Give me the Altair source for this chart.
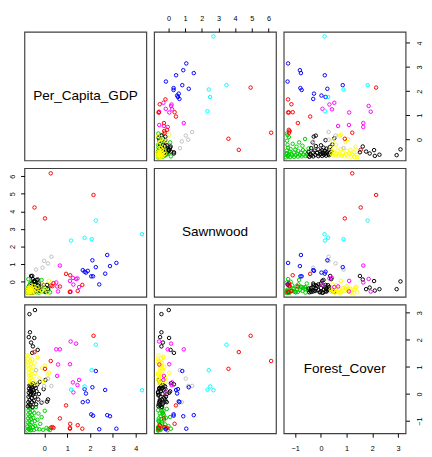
import altair as alt
import pandas as pd

groups = ["black", "red", "green", "blue", "cyan", "magenta", "yellow", "gray"]
colors = ["#000000", "#FF0000", "#00CD00", "#0000FF", "#00FFFF", "#FF00FF", "#FFFF00", "#BEBEBE"]

variables = ["Per_Capita_GDP", "Sawnwood", "Forest_Cover"]

gdp_ticks = [0, 1, 2, 3, 4]
saw_ticks = [0, 1, 2, 3, 4, 5, 6]
forest_ticks = [-1, 0, 1, 2, 3]

# ---- data per group: (Per_Capita_GDP, Sawnwood, Forest_Cover) ----
black_gdp = [-0.41, -0.65, -0.44, -0.68, -0.63, -0.58, -0.50, -0.29, -0.53,
             -0.72, -0.70, -0.69, -0.68, -0.67, -0.66, -0.65, -0.64, -0.63, -0.62,
             -0.61, -0.60, -0.59, -0.58, -0.57, -0.56, -0.55, -0.54, -0.53, -0.52,
             -0.50, -0.49, -0.48, -0.46, -0.45, -0.43, -0.41, -0.38, -0.36, -0.34,
             -0.31, -0.27, -0.24, -0.20, -0.12, -0.03, 0.12, 0.16, 0.05]
black_saw = [0.02, -0.42, 0.04, -0.50, -0.42, -0.33, -0.42, 0.13, 0.33,
             -0.60, -0.55, -0.48, -0.62, -0.40, -0.58, -0.30, -0.52, -0.45, -0.60,
             -0.20, -0.50, -0.35, 0.33, -0.55, -0.25, -0.62, -0.10, -0.48, -0.38,
             0.15, -0.58, -0.28, -0.50, 0.05, -0.42, -0.15, -0.55, -0.35, 0.10,
             -0.45, -0.20, -0.10, -0.52, -0.30, -0.18, -0.18, -0.40, -0.58]
black_forest = [3.10, 2.95, 2.07, 2.10, 2.28, 1.90, 1.76, 1.63, 1.52,
                -0.45, -0.30, -0.10, 0.05, 0.20, -0.38, 0.32, -0.22, 0.12, -0.05,
                0.28, -0.42, 0.00, 0.36, 0.18, -0.15, 0.08, -0.30, 0.25, -0.48,
                0.40, -0.02, 0.15, -0.25, 0.05, 0.30, -0.10, 0.22, -0.38, 0.10,
                0.35, -0.20, 0.00, 0.45, -0.32, 0.18, -0.28, -0.20, 0.52]

red_gdp = [2.15, 0.28, -0.43, 0.03, 1.66, 1.46, 1.12, 1.12, 1.13, 0.95, 0.68, 0.40, 0.28, 0.35]
red_saw = [4.93, 6.16, 4.22, 3.60, -0.18, -0.52, -0.58, -0.58, 0.37, 0.45, -0.27, -0.08, -0.22, -0.25]
red_forest = [2.15, 1.22, 1.55, 0.93, -1.28, -1.15, -1.28, -1.25, -1.10, -0.42, -0.90, -1.25, -1.24, -1.22]

green_gdp = [-0.74, -0.73, -0.72, -0.71, -0.70, -0.69, -0.68, -0.67, -0.66, -0.65,
             -0.64, -0.63, -0.62, -0.61, -0.60, -0.58, -0.57, -0.55, -0.54, -0.52,
             -0.50, -0.48, -0.46, -0.44, -0.42, -0.40, -0.37, -0.34, -0.30, -0.26,
             -0.22, -0.18, -0.12, -0.05, 0.02, 0.10, 0.18, 0.25, -0.70, -0.60]
green_saw = [-0.62, -0.50, -0.40, -0.58, -0.30, -0.62, -0.45, -0.55, -0.20, -0.60,
             -0.48, -0.35, -0.62, -0.10, -0.52, -0.42, -0.60, -0.28, -0.55, -0.40,
             -0.62, -0.15, -0.50, -0.35, -0.58, 0.00, -0.45, -0.60, -0.25, -0.52,
             -0.62, -0.38, 0.10, -0.55, -0.30, -0.58, -0.45, -0.60, 0.15, -0.05]
green_forest = [-1.35, -1.20, -1.05, -0.90, -0.75, -0.60, -0.50, -1.30, -1.12, -0.98,
                -0.82, -0.68, -1.25, -0.55, -1.15, -0.92, -1.32, -0.78, -1.05, -0.62,
                -1.22, -0.88, -1.33, -0.70, -1.00, -1.18, -0.48, -1.28, -0.95, -0.72,
                -1.30, -1.10, -0.85, -1.32, -0.62, -1.25, -1.30, -1.33, -1.28, -1.34]

blue_gdp = [3.15, 2.87, 2.75, 2.66, 2.40, 2.25, 2.10, 2.13, 2.05, 1.90, 1.82, 1.76, 1.68]
blue_saw = [1.07, 0.89, 1.52, 0.46, -0.15, 0.83, 1.22, 0.31, 0.31, 0.62, 0.52, 0.57, 0.66]
blue_forest = [-1.28, -0.82, -0.78, 0.15, -1.30, 0.85, 0.25, -0.80, -0.75, -0.27, 0.02, 0.18, -0.30]

cyan_gdp = [4.27, 2.25, 2.07, 1.76, 1.17]
cyan_saw = [2.70, 3.48, 2.42, 2.50, 2.34]
cyan_forest = [0.14, 1.82, 0.88, 0.28, 0.16]

magenta_gdp = [1.45, 1.52, 1.27, 1.25, 1.12, 1.39, 1.15, 0.56, 0.60, 0.68, 0.52]
magenta_saw = [0.19, -0.30, -0.16, 0.22, 0.05, 0.16, -0.56, -0.27, -0.55, 0.92, -0.04]
magenta_forest = [0.33, 0.52, 0.06, 0.43, 1.10, 1.86, 1.94, 0.67, 1.09, 1.65, 1.65]

yellow_gdp = [-0.73, -0.72, -0.71, -0.70, -0.69, -0.68, -0.67, -0.66, -0.65, -0.64,
              -0.63, -0.62, -0.61, -0.60, -0.58, -0.57, -0.55, -0.53, -0.51, -0.48,
              -0.46, -0.43, -0.40, -0.35, -0.30, -0.22, -0.10, -0.05, 0.02, 0.15, 0.20]
yellow_saw = [-0.60, -0.45, -0.62, -0.50, -0.35, -0.58, -0.40, -0.62, -0.52, -0.30,
              -0.55, -0.42, -0.60, -0.20, -0.48, -0.58, -0.35, -0.62, -0.50, -0.25,
              -0.55, -0.40, -0.60, -0.45, -0.30, -0.58, -0.50, -0.15, -0.40, -0.62, 0.05]
yellow_forest = [1.42, 1.30, 1.18, 1.05, 0.92, 0.80, 0.68, 0.55, 0.45, 1.38,
                 1.22, 0.98, 0.72, 0.60, 1.10, 0.40, 0.85, 1.28, 0.50, 1.00,
                 0.65, 1.15, 0.78, 0.38, 1.35, 0.58, 0.95, 0.46, 1.05, 0.72, 0.78]

gray_gdp = [0.31, 0.16, -0.01, -0.08, -0.36]
gray_saw = [1.42, 1.04, 1.19, 0.80, 0.69]
gray_forest = [0.30, 0.57, 0.30, -0.30, 0.88]

series = {
    "green": (green_gdp, green_saw, green_forest),
    "black": (black_gdp, black_saw, black_forest),
    "yellow": (yellow_gdp, yellow_saw, yellow_forest),
    "gray": (gray_gdp, gray_saw, gray_forest),
    "magenta": (magenta_gdp, magenta_saw, magenta_forest),
    "red": (red_gdp, red_saw, red_forest),
    "blue": (blue_gdp, blue_saw, blue_forest),
    "cyan": (cyan_gdp, cyan_saw, cyan_forest),
}

frames = []
for g, (a, b, c) in series.items():
    frames.append(pd.DataFrame({"Per_Capita_GDP": a, "Sawnwood": b, "Forest_Cover": c, "grp": g}))
df = pd.concat(frames, ignore_index=True)

domains = {
    "Per_Capita_GDP": [-0.87, 4.46],
    "Sawnwood": [-0.86, 6.45],
    "Forest_Cover": [-1.45, 3.30],
}
ticks = {"Per_Capita_GDP": gdp_ticks, "Sawnwood": saw_ticks, "Forest_Cover": forest_ticks}

W, H = 126, 133
FONT = "Liberation Sans"
n = len(variables)


def x_axis(var, orient):
    return alt.Axis(orient=orient, values=ticks[var], title=None, grid=False, domain=False,
                    tickSize=4, tickColor="black", labelColor="black", labelFont=FONT,
                    labelFontSize=7.5, labelPadding=6 if orient == "top" else 8,
                    labelOverlap=False, labelFlush=False)


def y_axis(var, orient):
    return alt.Axis(orient=orient, values=ticks[var], title=None, grid=False, domain=False,
                    tickSize=4, tickColor="black", labelColor="black", labelFont=FONT,
                    labelFontSize=7.5, labelAngle=270, labelAlign="center",
                    labelBaseline="bottom" if orient == "left" else "top",
                    labelPadding=4 if orient == "left" else 6,
                    labelOverlap=False, labelFlush=False)


def axes_for(i, j):
    xa = None
    ya = None
    if i == 0 and j % 2 == 1:
        xa = "top"
    if i == n - 1 and j % 2 == 0:
        xa = "bottom"
    if j == 0 and i % 2 == 1:
        ya = "left"
    if j == n - 1 and i % 2 == 0:
        ya = "right"
    return xa, ya


panels = []
for i in range(n):
    for j in range(n):
        xv, yv = variables[j], variables[i]
        xa, ya = axes_for(i, j)
        xax = x_axis(xv, xa) if xa else None
        yax = y_axis(yv, ya) if ya else None
        xs = alt.Scale(domain=domains[xv], nice=False, zero=False)
        ys = alt.Scale(domain=domains[yv], nice=False, zero=False)
        if i == j:
            lab = pd.DataFrame({
                "label": [variables[i]],
                "cx": [sum(domains[xv]) / 2],
                "cy": [sum(domains[yv]) / 2],
            })
            ch = alt.Chart(lab).mark_text(font=FONT, fontSize=14, color="black",
                                          align="center", baseline="middle").encode(
                x=alt.X("cx:Q", scale=xs, axis=xax),
                y=alt.Y("cy:Q", scale=ys, axis=yax),
                text="label:N",
            )
        else:
            ch = alt.Chart(df).mark_point(shape="circle", filled=False, size=13,
                                          strokeWidth=1, opacity=1).encode(
                x=alt.X(f"{xv}:Q", scale=xs, axis=xax),
                y=alt.Y(f"{yv}:Q", scale=ys, axis=yax),
                color=alt.Color("grp:N", scale=alt.Scale(domain=groups, range=colors), legend=None),
            )
        panels.append(ch.properties(width=W, height=H))

chart = alt.concat(*panels, columns=3, spacing=8, bounds="flush").properties(
    padding={"left": 0, "top": -2, "right": 0, "bottom": 0}, background="white"
).configure_view(stroke="#404040", strokeWidth=1.2)

chart.save("out.html", embed_options={"renderer": "svg", "actions": False})
